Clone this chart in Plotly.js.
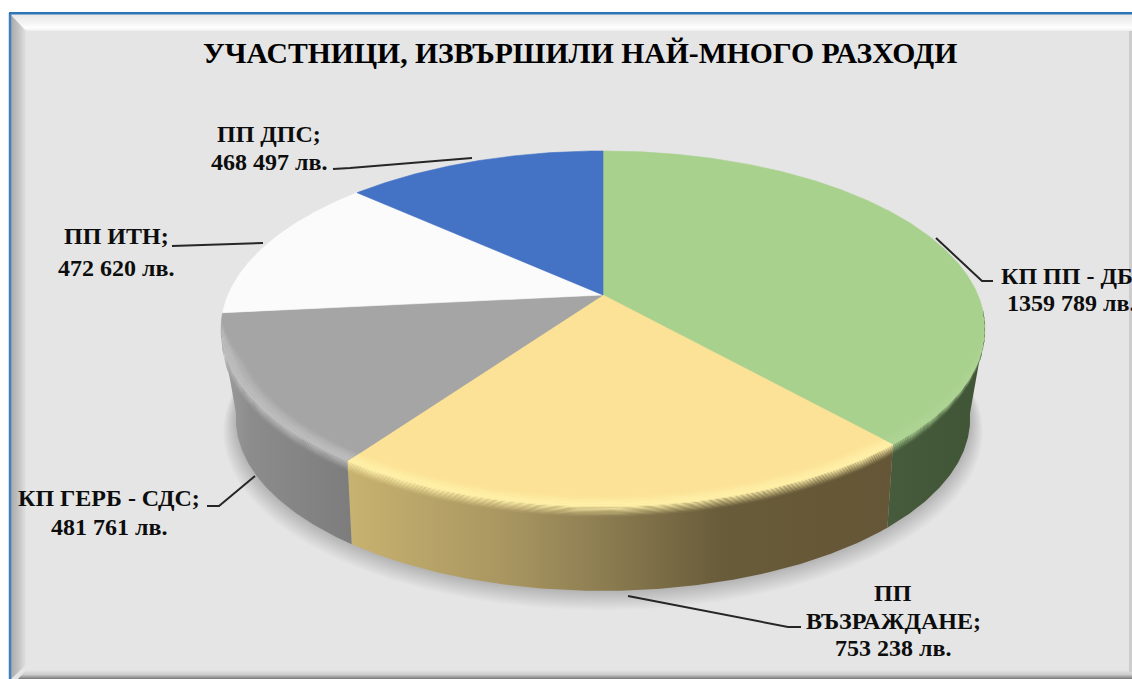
<!DOCTYPE html>
<html><head><meta charset="utf-8">
<script src="https://cdn.plot.ly/plotly-3.0.1.min.js"></script>
<style>html,body{margin:0;padding:0;background:#fff;overflow:hidden}#c{width:1132px;height:679px}</style>
</head><body><div id="c"></div>
<script>
// ---- data ----
const categories = ["КП ПП - ДБ", "ПП ВЪЗРАЖДАНЕ", "КП ГЕРБ - СДС", "ПП ИТН", "ПП ДПС"];
const values = [1359789, 753238, 481761, 472620, 468497];
const titleText = "УЧАСТНИЦИ, ИЗВЪРШИЛИ НАЙ-МНОГО РАЗХОДИ";
const currency = "лв.";
const categoryLines = [["КП ПП - ДБ;"], ["ПП", "ВЪЗРАЖДАНЕ;"], ["КП ГЕРБ - СДС;"], ["ПП ИТН;"], ["ПП ДПС;"]];
// ---- style ----
const faceColors = ["#a9d18e", "#fbe296", "#a5a5a5", "#fbfbfb", "#4472c4"];
const rimColors = ["#aed494", "#fff0a8", "#bebebe", null, null];
const sideStops = [
  [[880, [70, 92, 60]], [985, [64, 84, 54]]],
  [[350, [200, 178, 112]], [520, [165, 147, 95]], [620, [135, 120, 78]], [720, [105, 92, 58]], [890, [100, 86, 54]]],
  [[222, [158, 158, 158]], [250, [140, 140, 140]], [355, [124, 124, 124]]]
];
const labelCenterX = [1071, 893, 109, 116, 269];
const labelRowsY = [[276, 303], [593, 621, 648], [498, 527], [236, 268], [134, 162]];
const leaders = [
  "M936,238 L982,281 L993,281", "M628,596 L788,627 L801,627", "M207,506 L219,506 L255,476",
  "M172,246 L263,243", "M333,169 L350,168 L472,158"
];
// ---- projection of the disc ----
const cx = 603, cy = 295, rx = 375, ry = 171.4, kTop = 0.19, kBot = 0.22, depth = 86, shrink = 0.955;
function P(deg, r, drop, s, k) {
  k = k === undefined ? kTop : k;
  const t = deg * Math.PI / 180, X = r * Math.sin(t), Y = -r * Math.cos(t), den = 1 - k * Y;
  return [cx + s * rx * X / den, cy + s * ry * Y / den + drop];
}
const total = values.reduce((a, b) => a + b, 0);
let acc = 0;
const angles = values.map(v => { const a0 = acc / total * 360; acc += v; return [a0, acc / total * 360]; });
function arc(a, b, fr, fd, fs, k) {
  const n = Math.max(2, Math.ceil(Math.abs(b - a) * 2)), o = [];
  for (let j = 0; j <= n; j++) { const d = a + (b - a) * j / n; o.push(P(d, fr(d), fd(d), fs ? fs(d) : 1, k)); }
  return o;
}
function poly(pts, extra) {
  return Object.assign({ x: pts.map(p => p[0]), y: pts.map(p => p[1]), mode: "lines", fill: "toself",
    line: { width: 0 }, hoverinfo: "skip", showlegend: false, type: "scatter" }, extra);
}
const clamp = v => Math.max(0, Math.min(1, v));
const lerp = (a, b, t) => a.map((c, i) => c + (b[i] - c) * t);
const rgb = c => "rgb(" + c.map(Math.round).join(",") + ")";
const hex = h => [1, 3, 5].map(i => parseInt(h.substr(i, 2), 16));
function gradient(i, base, mix) {
  const st = sideStops[i], a = st[0][0], b = st[st.length - 1][0];
  return { type: "horizontal", start: a, stop: b,
    colorscale: st.map(s => [(s[0] - a) / (b - a), rgb(lerp(base, s[1], mix))]) };
}
const traces = [];
// frame
const gray = v => rgb([v, v, v]);
traces.push(poly([[10, 13], [1132, 13], [1132, 679], [10, 679]], { fillcolor: "#e5e5e5" }));
traces.push(poly([[11, 15], [1132, 15], [1132, 31], [26, 31]], { fillgradient: { type: "vertical", start: 15, stop: 31,
  colorscale: [[0, gray(232)], [0.5, gray(244)], [0.8, gray(255)], [1, gray(238)]] } }));
traces.push(poly([[11, 15], [26, 31], [26, 665], [11, 679]], { fillgradient: { type: "horizontal", start: 11, stop: 26,
  colorscale: [[0, gray(170)], [0.5, gray(195)], [1, gray(226)]] } }));
traces.push(poly([[18, 679], [26, 670], [1132, 670], [1132, 679]], { fillgradient: { type: "vertical", start: 670, stop: 679,
  colorscale: [[0, gray(229)], [0.5, gray(205)], [1, gray(120)]] } }));
traces.push(poly([[1129, 31], [1132, 31], [1132, 672], [1129, 672]], { fillcolor: gray(205) }));
// soft shadow under the disc
for (let n = 16; n >= 1; n--) {
  const pts = arc(0, 360, () => 1, () => depth + n * 0.75, () => shrink * (1 + n * 0.0022), kBot);
  traces.push(poly(pts, { fillcolor: "rgba(0,0,0,0.012)" }));
}
// visible side walls
const sideFrom = [101, null, null], sideTo = [null, null, 259];
[0, 1, 2].forEach(i => {
  const a = sideFrom[i] != null ? sideFrom[i] : angles[i][0], b = sideTo[i] != null ? sideTo[i] : angles[i][1];
  const top = arc(a, b, () => 1, () => 0), bot = arc(b, a, () => 1, () => depth, () => shrink, kBot);
  traces.push(poly(top.concat(bot), { fillgradient: gradient(i, [0, 0, 0], 1) }));
});
// top faces
values.forEach((v, i) => {
  const pts = [P(0, 0, 0, 1)].concat(arc(angles[i][0], angles[i][1], () => 1, () => 0)).concat([P(0, 0, 0, 1)]);
  traces.push(poly(pts, { fillcolor: faceColors[i], line: { width: 0.6, color: faceColors[i] } }));
});
// bevel along the front rim
const rimW = d => clamp((d - 95) / 45) * clamp((262 - d) / 14);
[0, 1, 2].forEach(i => {
  const a = Math.max(angles[i][0], 95), b = Math.min(angles[i][1], 262);
  const face = hex(faceColors[i]), lite = hex(rimColors[i]);
  const innerSteps = 6;
  for (let s = 0; s < innerSteps; s++) {
    const t0 = s / innerSteps, t1 = (s + 1) / innerSteps;
    const r0 = t => d => 1 - 0.04 * rimW(d) * (1 - t);
    const c = lerp(face, lite, Math.sin((s + .5) / innerSteps * Math.PI / 2));
    const pts = arc(a, b, r0(t0), () => 0).concat(arc(b, a, r0(t1), () => 0));
    traces.push(poly(pts, { fillcolor: rgb(c) }));
  }
  const dropSteps = 8, dropH = 10;
  for (let s = 0; s < dropSteps; s++) {
    const d0 = s / dropSteps, d1 = (s + 1) / dropSteps;
    const f = t => d => dropH * t * rimW(d);
    const pts = arc(a, b, () => 1, f(d0)).concat(arc(b, a, () => 1, f(d1)));
    traces.push(poly(pts, { fillgradient: gradient(i, lite, (s + .5) / dropSteps) }));
  }
});
// texts
const fmt = v => { const s = String(v); return s.slice(0, -3) + " " + s.slice(-3) + " " + currency; };
const annotations = [{ text: "<b>" + titleText + "</b>", x: 579.5, y: 53, xref: "x", yref: "y", showarrow: false,
  xanchor: "center", yanchor: "middle", font: { family: "Liberation Serif", size: 29.7, color: "#000" } }];
categories.forEach((c, i) => {
  categoryLines[i].concat([fmt(values[i])]).forEach((line, j) => {
    annotations.push({ text: "<b>" + line + "</b>", x: labelCenterX[i], y: labelRowsY[i][j], xref: "x", yref: "y",
      showarrow: false, xanchor: "center", yanchor: "middle", font: { family: "Liberation Serif", size: 24, color: "#0d0d0d" } });
  });
});
const shapes = leaders.map(p => ({ type: "path", path: p, xref: "x", yref: "y", line: { color: "#262626", width: 2 } }));
shapes.push({ type: "line", xref: "x", yref: "y", x0: 10, x1: 10, y0: 13, y1: 679, line: { color: "#3f7fbf", width: 2.5 } });
shapes.push({ type: "line", xref: "x", yref: "y", x0: 9, x1: 1132, y0: 13.3, y1: 13.3, line: { color: "#2e75b6", width: 2.4 } });
Plotly.newPlot("c", traces, {
  width: 1132, height: 679, margin: { l: 0, r: 0, t: 0, b: 0 }, paper_bgcolor: "#fff", plot_bgcolor: "#fff", showlegend: false,
  xaxis: { range: [0, 1132], visible: false, fixedrange: true },
  yaxis: { range: [679, 0], visible: false, fixedrange: true },
  annotations, shapes
}, { displayModeBar: false, staticPlot: true });
</script></body></html>
